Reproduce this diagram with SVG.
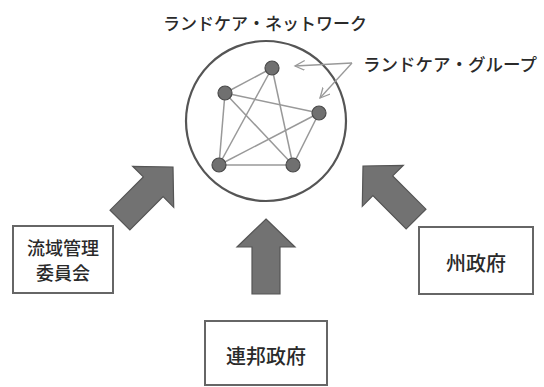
<svg xmlns="http://www.w3.org/2000/svg" width="544" height="387" viewBox="0 0 544 387">
<defs>
<style>
text{font-family:"Noto Sans CJK JP","Noto Sans",sans-serif;fill:#2a2a2a;font-weight:500;dominant-baseline:central;text-anchor:middle}
.box{fill:#fff;stroke:#666;stroke-width:2}
.big{fill:#727272;stroke:#555;stroke-width:1.2;stroke-linejoin:miter}
.edge{stroke:#999;stroke-width:1.5;fill:none}
.node{fill:#707070;stroke:#4a4a4a;stroke-width:1.2}
.ptr{stroke:#999;stroke-width:1.3;fill:none}
</style>
<marker id="open" markerWidth="12" markerHeight="12" refX="10" refY="5" orient="auto" markerUnits="userSpaceOnUse">
<path d="M0,0 L10,5 L0,10" fill="none" stroke="#999" stroke-width="1.3"/>
</marker>
<polygon id="barrow" points="0,0 29,28 14,28 14,75 -14,75 -14,28 -29,28"/>
</defs>
<rect width="544" height="387" fill="#fff"/>

<g id="network">
<circle cx="266" cy="121" r="80" fill="none" stroke="#555" stroke-width="2.2"/>
<text x="265" y="22" font-size="17">ランドケア・ネットワーク</text>
<g id="edges">
<line class="edge" x1="272" y1="68" x2="225" y2="93"/>
<line class="edge" x1="272" y1="68" x2="219" y2="165"/>
<line class="edge" x1="272" y1="68" x2="293" y2="165"/>
<line class="edge" x1="225" y1="93" x2="319" y2="113"/>
<line class="edge" x1="225" y1="93" x2="293" y2="165"/>
<line class="edge" x1="225" y1="93" x2="219" y2="165"/>
<line class="edge" x1="319" y1="113" x2="219" y2="165"/>
<line class="edge" x1="319" y1="113" x2="293" y2="165"/>
<line class="edge" x1="219" y1="165" x2="293" y2="165"/>
</g>
<circle id="g1" class="node" cx="272" cy="68" r="7"/>
<circle id="g2" class="node" cx="225" cy="93" r="7"/>
<circle id="g3" class="node" cx="319" cy="113" r="7"/>
<circle id="g4" class="node" cx="219" cy="165" r="7"/>
<circle id="g5" class="node" cx="293" cy="165" r="7"/>
</g>

<g id="group-label">
<text x="450" y="63" font-size="17.5">ランドケア・グループ</text>
</g>

<g id="connectors">
<polyline class="ptr" points="352,63 295,66" marker-end="url(#open)"/>
<polyline class="ptr" points="352,63 320,98" marker-end="url(#open)"/>
<use href="#barrow" class="big" transform="translate(266,219)"/>
<use href="#barrow" class="big" transform="translate(173,167) rotate(45)"/>
<use href="#barrow" class="big" transform="translate(363,166) rotate(-45)"/>
</g>

<g id="basin">
<rect class="box" x="13" y="226" width="100" height="67"/>
<text x="63" y="247" font-size="18">流域管理</text>
<text x="63" y="272" font-size="18">委員会</text>
</g>

<g id="federal">
<rect class="box" x="205" y="321" width="122" height="64"/>
<text x="266" y="355" font-size="20">連邦政府</text>
</g>

<g id="state">
<rect class="box" x="419" y="227" width="114" height="67"/>
<text x="476" y="262" font-size="20">州政府</text>
</g>
</svg>
